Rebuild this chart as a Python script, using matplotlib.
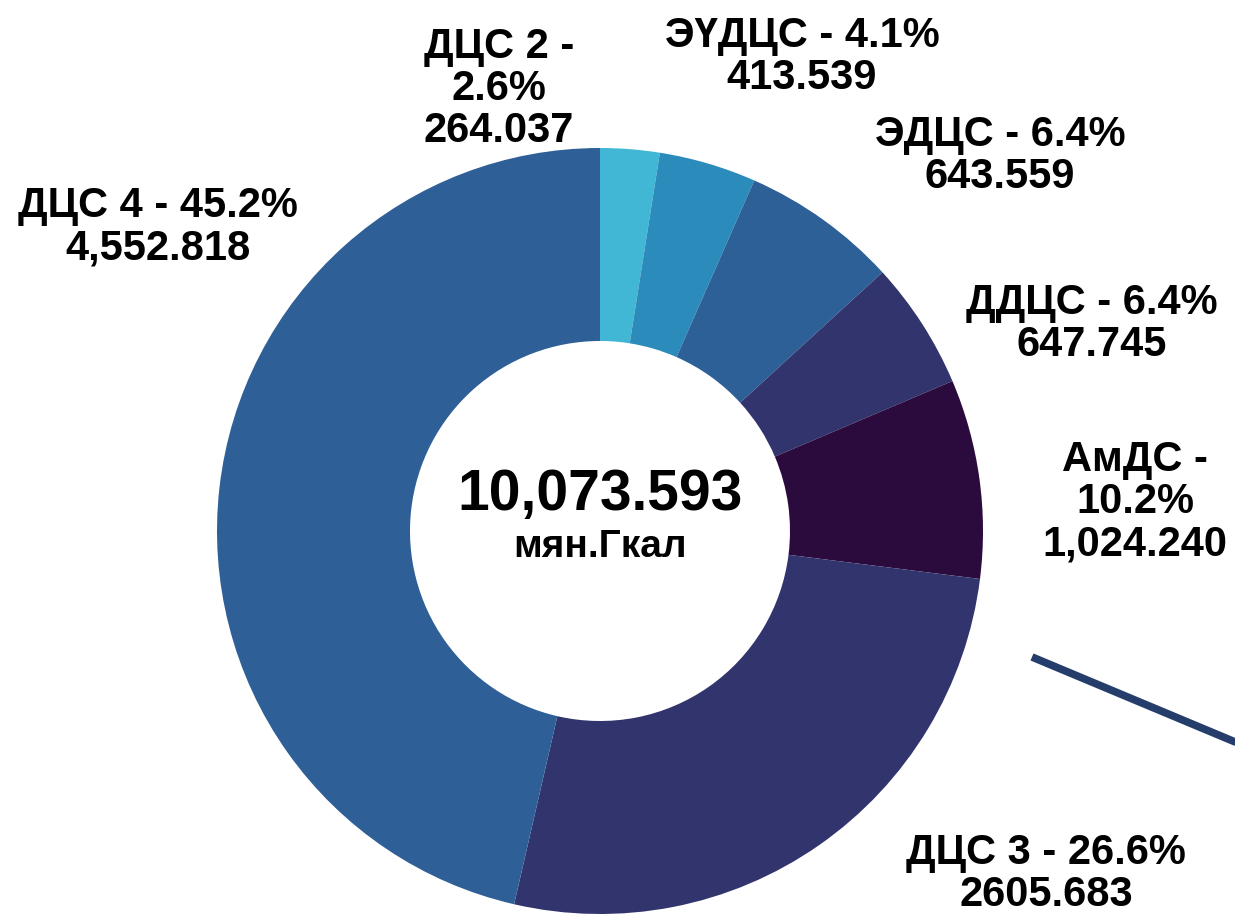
"""Donut chart: heat production by plant, recreated in matplotlib."""

import matplotlib

matplotlib.use("Agg")
import matplotlib.pyplot as plt

plt.rcParams["font.family"] = ["Liberation Sans", "DejaVu Sans"]
plt.rcParams["font.weight"] = "bold"

W, H = 1235, 914

# Slice order clockwise from 12 o'clock
plants = ["ДЦС 2", "ЭҮДЦС", "ЭДЦС", "ДДЦС", "АмДС", "ДЦС 3", "ДЦС 4"]
# share of the ring as drawn in the picture (percent)
slice_share = [2.5, 4.1, 6.6, 5.4, 8.4, 26.6, 46.4]
# numbers printed in the labels
label_pct = ["2.6%", "4.1%", "6.4%", "6.4%", "10.2%", "26.6%", "45.2%"]
label_value = ["264.037", "413.539", "643.559", "647.745", "1,024.240", "2605.683", "4,552.818"]
total_text = "10,073.593"
unit_text = "мян.Гкал"

colors = ["#41b7d5", "#2b8bbb", "#2d6097", "#32346d", "#2b0a3d", "#32346d", "#2f5f97"]

# label block centres in pixel coords, and how each label breaks lines
label_pos = [(499, 89), (802, 57), (1000, 156), (1092, 324), (1135, 502), (1046, 874), (158, 227)]
label_breaks = [
    "{n} -\n{p}\n{v}",
    "{n} - {p}\n{v}",
    "{n} - {p}\n{v}",
    "{n} - {p}\n{v}",
    "{n} -\n{p}\n{v}",
    "{n} - {p}\n{v}",
    "{n} - {p}\n{v}",
]

fig = plt.figure(figsize=(W / 100, H / 100), dpi=100)
ax = fig.add_axes([0, 0, 1, 1])

cx, cy, r_out, r_in = 600, H - 531, 383, 190
ax.pie(
    slice_share,
    colors=colors,
    startangle=90,
    counterclock=False,
    center=(cx, cy),
    radius=r_out,
    wedgeprops=dict(width=r_out - r_in, linewidth=0),
)

for name, pct, val, (x, y), fmt in zip(plants, label_pct, label_value, label_pos, label_breaks):
    ax.text(x, H - y, fmt.format(n=name, p=pct, v=val), ha="center", va="center",
            fontsize=30, fontweight="bold", linespacing=1.08, color="#000000")

ax.text(cx, H - 495, total_text, ha="center", va="center", fontsize=41, fontweight="bold")
ax.text(cx, H - 547, unit_text, ha="center", va="center", fontsize=28, fontweight="bold")

# leader line running off the right edge
ax.plot([1032, 1240], [H - 657, H - 744], color="#243d6b", lw=5.5, solid_capstyle="butt")

ax.set_xlim(0, W)
ax.set_ylim(0, H)
ax.set_aspect("equal")
ax.axis("off")

fig.savefig("out.png", dpi=100, facecolor="white")
